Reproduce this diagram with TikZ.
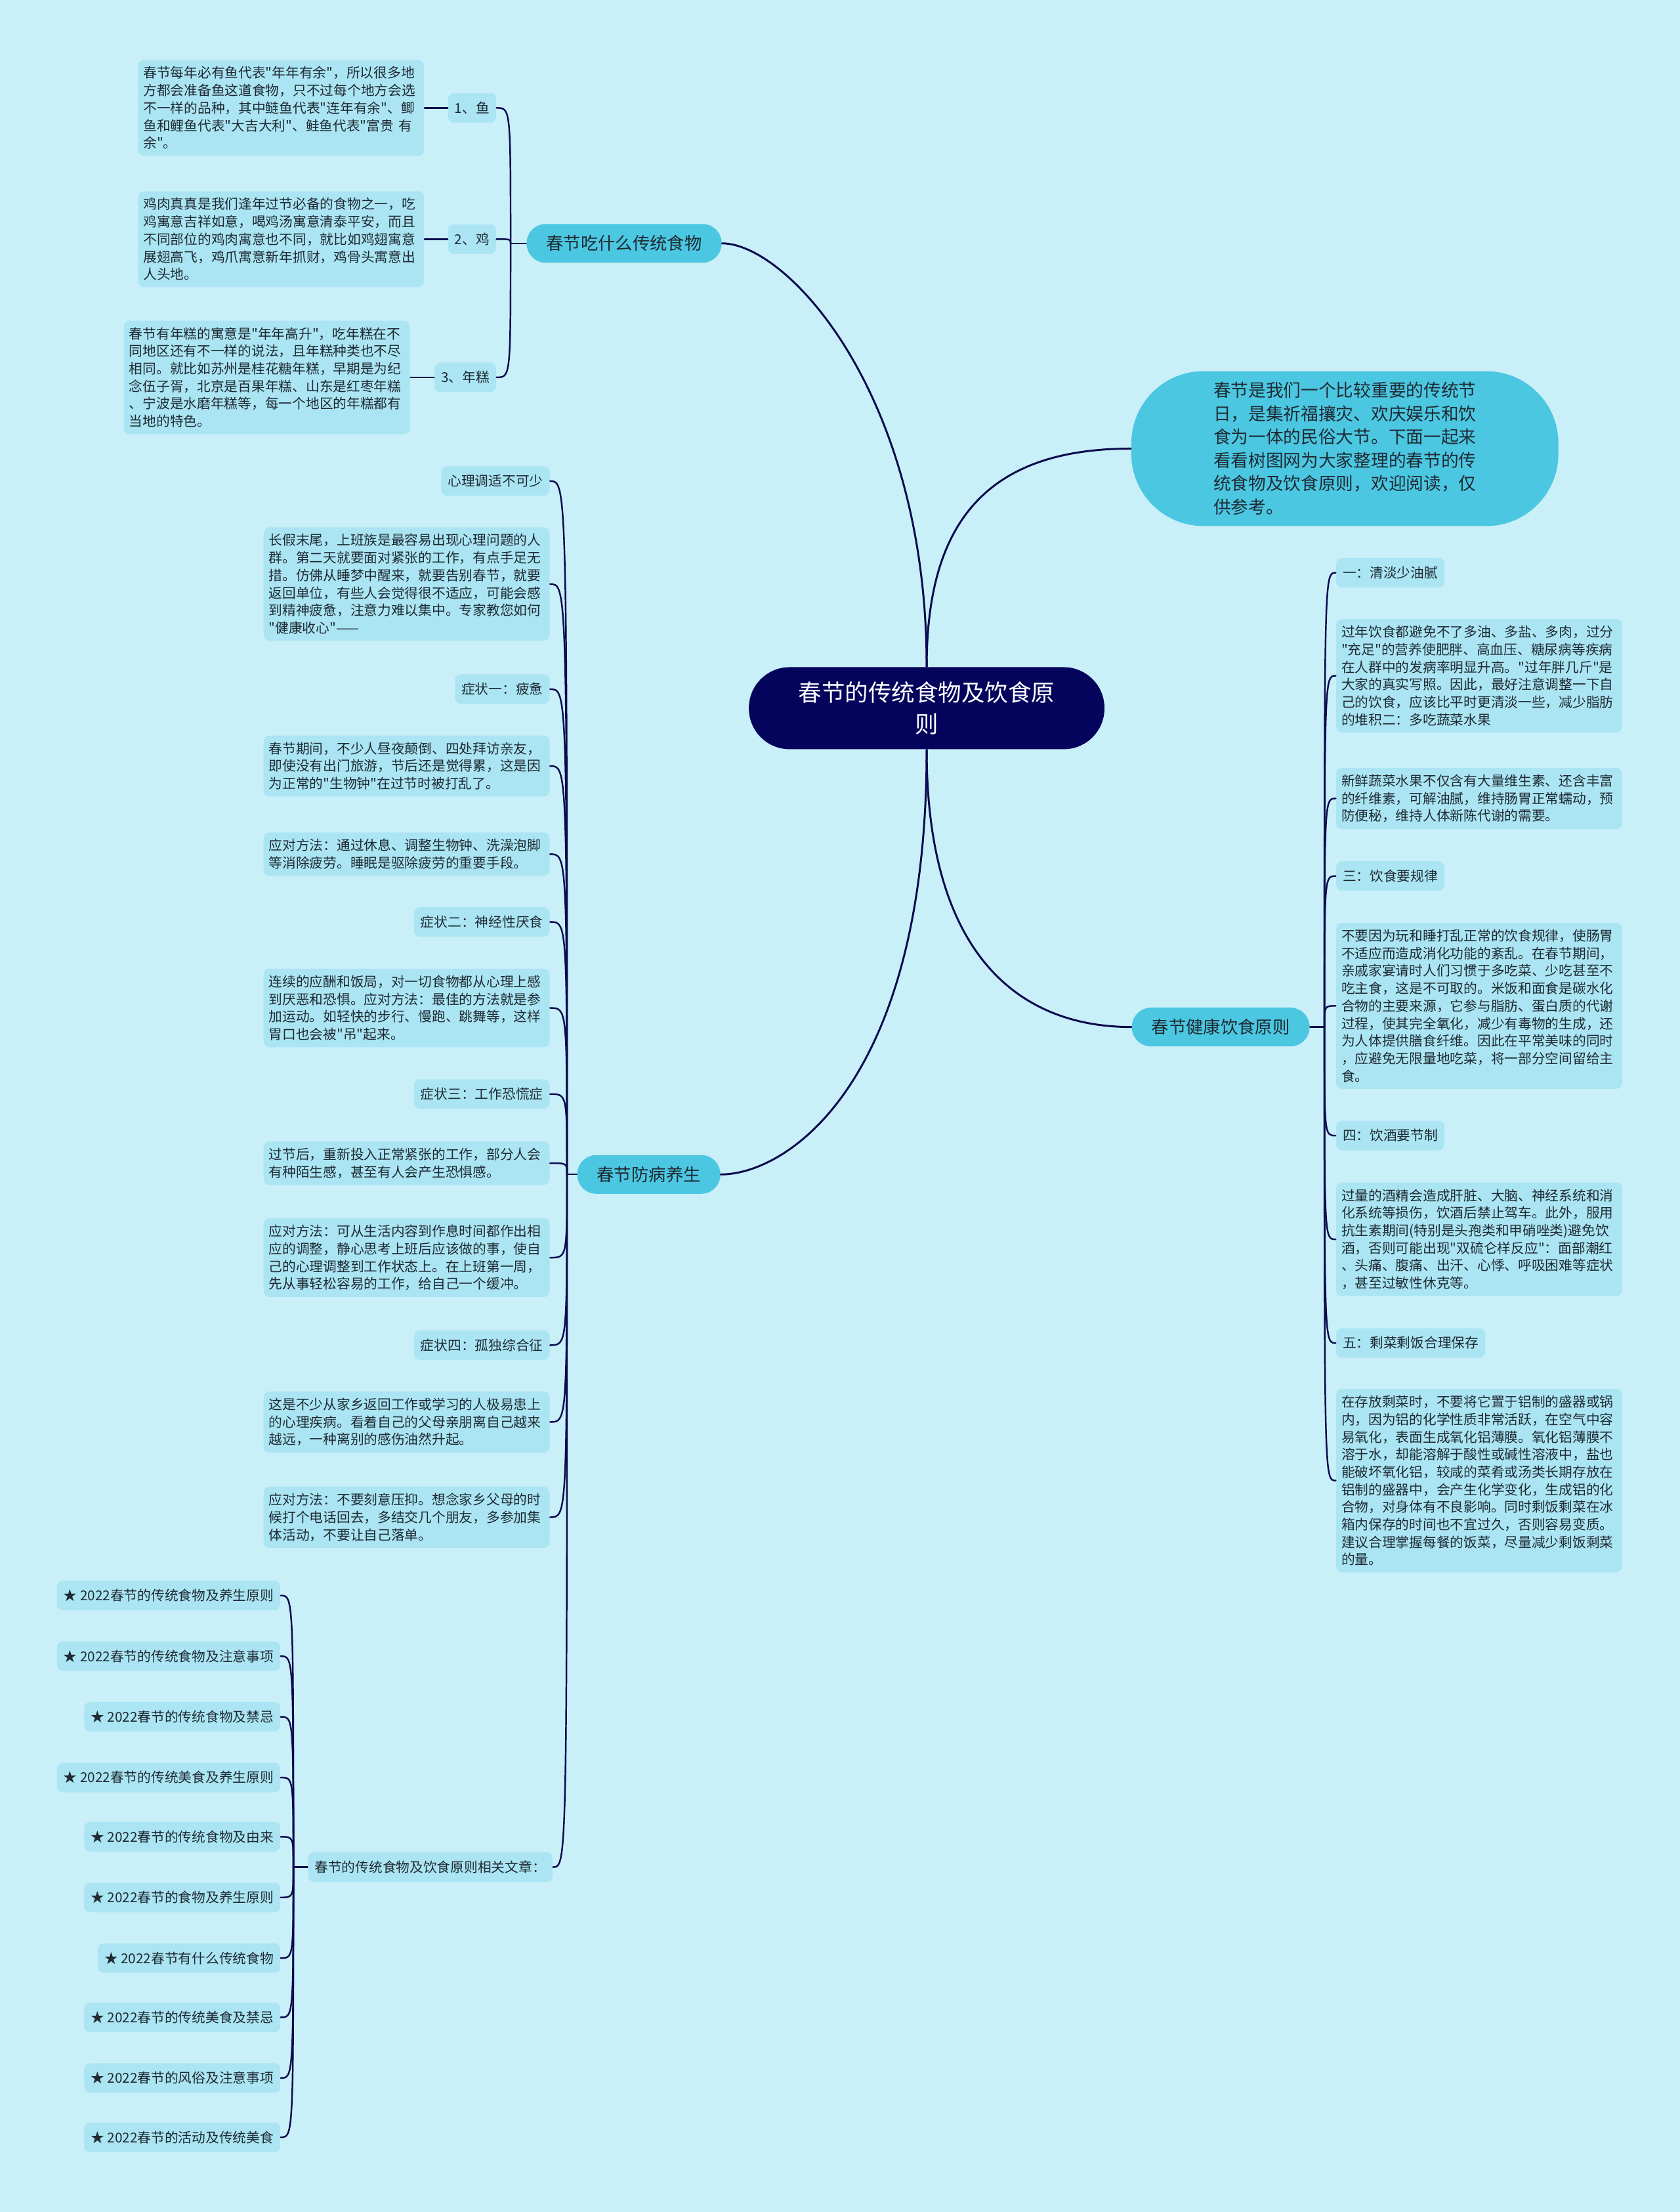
\documentclass[tikz,border=0pt]{standalone}
\usepackage{fontspec}
\newfontfamily\cjkfont{Noto Sans CJK SC}
\definecolor{cFondo}{HTML}{C9EFF8}
\definecolor{cHoja}{HTML}{ABE5F3}
\definecolor{cRama}{HTML}{4BC7E1}
\definecolor{cRaiz}{HTML}{04045C}
\definecolor{cLinea}{HTML}{0B0B4E}
\definecolor{cTexto}{HTML}{1F2A33}

\begin{document}
\begin{tikzpicture}[x=0.021494cm, y=-0.021494cm, line cap=round,
  every node/.style={text=cTexto},
  raiz/.style={fill=cRaiz, text=white, rounded corners=0.62cm, minimum width=5.42cm,
    minimum height=1.25cm, align=center, font=\cjkfont\fontsize{10.1}{13.4}\selectfont},
  burbuja/.style={fill=cRama, rounded corners=1.1cm, minimum width=6.51cm,
    minimum height=2.36cm, inner sep=0pt, align=left, font=\cjkfont\fontsize{7.6}{10.1}\selectfont},
  rama/.style={fill=cRama, rounded corners=0.29cm, minimum height=0.59cm,
    inner xsep=0.3cm, inner ysep=0pt, font=\cjkfont\fontsize{7.5}{9}\selectfont},
  hoja/.style={fill=cHoja, rounded corners=0.09cm, minimum height=0.45cm,
    inner xsep=0.1cm, inner ysep=0pt, font=\cjkfont\fontsize{5.9}{7.6}\selectfont},
  parrafo/.style={hoja, text width=4.2cm, align=left, inner xsep=0.08cm, inner ysep=0.1cm},
  enlace/.style={draw=cLinea, line width=0.85pt},
  brazo/.style={draw=cLinea, line width=0.7pt}]

% --- fondo ---
\useasboundingbox (0,0) rectangle (1191,1568);
\fill[cFondo] (0,0) rectangle (1191,1568);

% --- centro y ramas ---
\node[raiz] (centro) at (657,502) {春节的传统食物及饮食原\\则};
\node[burbuja] (intro) at (953.5,318) {春节是我们一个比较重要的传统节\\日，是集祈福攘灾、欢庆娱乐和饮\\食为一体的民俗大节。下面一起来\\看看树图网为大家整理的春节的传\\统食物及饮食原则，欢迎阅读，仅\\供参考。};
\node[rama] (ramaA) at (442.5,172.5) {春节吃什么传统食物};
\node[rama] (ramaB) at (865.5,728) {春节健康饮食原则};
\node[rama] (ramaC) at (460,832.5) {春节防病养生};

\draw[enlace] (centro.north) .. controls (657,279) and (558,172.5) .. (ramaA.east);
\draw[enlace] (centro.north) .. controls (657,372) and (698,318) .. (intro.west);
\draw[enlace] (centro.south) .. controls (657,675) and (721,728) .. (ramaB.west);
\draw[enlace] (centro.south) .. controls (657,768) and (558,832.5) .. (ramaC.east);

% --- rama A: comidas ---
\node[hoja, anchor=east] (a1) at (352,76.5) {1、鱼};
\node[hoja, anchor=east] (a2) at (352,169.5) {2、鸡};
\node[hoja, anchor=east] (a3) at (352,267.5) {3、年糕};
\node[parrafo, anchor=east] (a1t) at (301,76.5) {春节每年必有鱼代表"年年有余"，所以很多地\\方都会准备鱼这道食物，只不过每个地方会选\\不一样的品种，其中鲢鱼代表"连年有余"、鲫\\鱼和鲤鱼代表"大吉大利"、鲑鱼代表"富贵 有\\余"。};
\node[parrafo, anchor=east] (a2t) at (301,169.5) {鸡肉真真是我们逢年过节必备的食物之一，吃\\鸡寓意吉祥如意，喝鸡汤寓意清泰平安，而且\\不同部位的鸡肉寓意也不同，就比如鸡翅寓意\\展翅高飞，鸡爪寓意新年抓财，鸡骨头寓意出\\人头地。};
\node[parrafo, anchor=east] (a3t) at (291,267.5) {春节有年糕的寓意是"年年高升"，吃年糕在不\\同地区还有不一样的说法，且年糕种类也不尽\\相同。就比如苏州是桂花糖年糕，早期是为纪\\念伍子胥，北京是百果年糕、山东是红枣年糕\\、宁波是水磨年糕等，每一个地区的年糕都有\\当地的特色。};

\coordinate (tA) at (362,172.5);
\draw[brazo] (ramaA.west) -- (tA);
\draw[brazo] (tA) .. controls (tA |- a1.east) .. (a1.east);
\draw[brazo] (tA) .. controls (tA |- a2.east) .. (a2.east);
\draw[brazo] (tA) .. controls (tA |- a3.east) .. (a3.east);
\draw[brazo] (a1t.east) -- (a1.west);
\draw[brazo] (a2t.east) -- (a2.west);
\draw[brazo] (a3t.east) -- (a3.west);

% --- rama B: principios ---
\node[hoja, anchor=west] (b1) at (947,406) {一：清淡少油腻};
\node[parrafo, anchor=west] (b2) at (947,479) {过年饮食都避免不了多油、多盐、多肉，过分\\"充足"的营养使肥胖、高血压、糖尿病等疾病\\在人群中的发病率明显升高。"过年胖几斤"是\\大家的真实写照。因此，最好注意调整一下自\\己的饮食，应该比平时更清淡一些，减少脂肪\\的堆积二：多吃蔬菜水果};
\node[parrafo, anchor=west] (b3) at (947,566) {新鲜蔬菜水果不仅含有大量维生素、还含丰富\\的纤维素，可解油腻，维持肠胃正常蠕动，预\\防便秘，维持人体新陈代谢的需要。};
\node[hoja, anchor=west] (b4) at (947,621) {三：饮食要规律};
\node[parrafo, anchor=west] (b5) at (947,713) {不要因为玩和睡打乱正常的饮食规律，使肠胃\\不适应而造成消化功能的紊乱。在春节期间，\\亲戚家宴请时人们习惯于多吃菜、少吃甚至不\\吃主食，这是不可取的。米饭和面食是碳水化\\合物的主要来源，它参与脂肪、蛋白质的代谢\\过程，使其完全氧化，减少有毒物的生成，还\\为人体提供膳食纤维。因此在平常美味的同时\\，应避免无限量地吃菜，将一部分空间留给主\\食。};
\node[hoja, anchor=west] (b6) at (947,805) {四：饮酒要节制};
\node[parrafo, anchor=west] (b7) at (947,878.5) {过量的酒精会造成肝脏、大脑、神经系统和消\\化系统等损伤，饮酒后禁止驾车。此外，服用\\抗生素期间(特别是头孢类和甲硝唑类)避免饮\\酒，否则可能出现"双硫仑样反应"：面部潮红\\、头痛、腹痛、出汗、心悸、呼吸困难等症状\\，甚至过敏性休克等。};
\node[hoja, anchor=west] (b8) at (947,952) {五：剩菜剩饭合理保存};
\node[parrafo, anchor=west] (b9) at (947,1049.5) {在存放剩菜时，不要将它置于铝制的盛器或锅\\内，因为铝的化学性质非常活跃，在空气中容\\易氧化，表面生成氧化铝薄膜。氧化铝薄膜不\\溶于水，却能溶解于酸性或碱性溶液中，盐也\\能破坏氧化铝，较咸的菜肴或汤类长期存放在\\铝制的盛器中，会产生化学变化，生成铝的化\\合物，对身体有不良影响。同时剩饭剩菜在冰\\箱内保存的时间也不宜过久，否则容易变质。\\建议合理掌握每餐的饭菜，尽量减少剩饭剩菜\\的量。};

\coordinate (tB) at (939,728);
\draw[brazo] (ramaB.east) -- (tB);
\draw[brazo] (tB) .. controls (tB |- b1.west) .. (b1.west);
\draw[brazo] (tB) .. controls (tB |- b2.west) .. (b2.west);
\draw[brazo] (tB) .. controls (tB |- b3.west) .. (b3.west);
\draw[brazo] (tB) .. controls (tB |- b4.west) .. (b4.west);
\draw[brazo] (tB) .. controls (tB |- b5.west) .. (b5.west);
\draw[brazo] (tB) .. controls (tB |- b6.west) .. (b6.west);
\draw[brazo] (tB) .. controls (tB |- b7.west) .. (b7.west);
\draw[brazo] (tB) .. controls (tB |- b8.west) .. (b8.west);
\draw[brazo] (tB) .. controls (tB |- b9.west) .. (b9.west);

% --- rama C: salud ---
\node[hoja, anchor=east] (c1) at (390,341) {心理调适不可少};
\node[parrafo, anchor=east] (c2) at (390,414) {长假末尾，上班族是最容易出现心理问题的人\\群。第二天就要面对紧张的工作，有点手足无\\措。仿佛从睡梦中醒来，就要告别春节，就要\\返回单位，有些人会觉得很不适应，可能会感\\到精神疲惫，注意力难以集中。专家教您如何\\"健康收心"——};
\node[hoja, anchor=east] (c3) at (390,488.5) {症状一：疲惫};
\node[parrafo, anchor=east] (c4) at (390,543) {春节期间，不少人昼夜颠倒、四处拜访亲友，\\即使没有出门旅游，节后还是觉得累，这是因\\为正常的"生物钟"在过节时被打乱了。};
\node[parrafo, anchor=east] (c5) at (390,605.5) {应对方法：通过休息、调整生物钟、洗澡泡脚\\等消除疲劳。睡眠是驱除疲劳的重要手段。};
\node[hoja, anchor=east] (c6) at (390,653.5) {症状二：神经性厌食};
\node[parrafo, anchor=east] (c7) at (390,714.5) {连续的应酬和饭局，对一切食物都从心理上感\\到厌恶和恐惧。应对方法：最佳的方法就是参\\加运动。如轻快的步行、慢跑、跳舞等，这样\\胃口也会被"吊"起来。};
\node[hoja, anchor=east] (c8) at (390,775.5) {症状三：工作恐慌症};
\node[parrafo, anchor=east] (c9) at (390,824.5) {过节后，重新投入正常紧张的工作，部分人会\\有种陌生感，甚至有人会产生恐惧感。};
\node[parrafo, anchor=east] (c10) at (390,891.5) {应对方法：可从生活内容到作息时间都作出相\\应的调整，静心思考上班后应该做的事，使自\\己的心理调整到工作状态上。在上班第一周，\\先从事轻松容易的工作，给自己一个缓冲。};
\node[hoja, anchor=east] (c11) at (390,953.5) {症状四：孤独综合征};
\node[parrafo, anchor=east] (c12) at (390,1008) {这是不少从家乡返回工作或学习的人极易患上\\的心理疾病。看着自己的父母亲朋离自己越来\\越远，一种离别的感伤油然升起。};
\node[parrafo, anchor=east] (c13) at (390,1075.5) {应对方法：不要刻意压抑。想念家乡父母的时\\候打个电话回去，多结交几个朋友，多参加集\\体活动，不要让自己落单。};
\node[hoja, anchor=east] (c14) at (392,1323.5) {春节的传统食物及饮食原则相关文章：};

\coordinate (tC) at (402,832.5);
\draw[brazo] (ramaC.west) -- (tC);
\draw[brazo] (tC) .. controls (tC |- c1.east) .. (c1.east);
\draw[brazo] (tC) .. controls (tC |- c2.east) .. (c2.east);
\draw[brazo] (tC) .. controls (tC |- c3.east) .. (c3.east);
\draw[brazo] (tC) .. controls (tC |- c4.east) .. (c4.east);
\draw[brazo] (tC) .. controls (tC |- c5.east) .. (c5.east);
\draw[brazo] (tC) .. controls (tC |- c6.east) .. (c6.east);
\draw[brazo] (tC) .. controls (tC |- c7.east) .. (c7.east);
\draw[brazo] (tC) .. controls (tC |- c8.east) .. (c8.east);
\draw[brazo] (tC) .. controls (tC |- c9.east) .. (c9.east);
\draw[brazo] (tC) .. controls (tC |- c10.east) .. (c10.east);
\draw[brazo] (tC) .. controls (tC |- c11.east) .. (c11.east);
\draw[brazo] (tC) .. controls (tC |- c12.east) .. (c12.east);
\draw[brazo] (tC) .. controls (tC |- c13.east) .. (c13.east);
\draw[brazo] (tC) .. controls (tC |- c14.east) .. (c14.east);

% --- articulos relacionados ---
\node[hoja, anchor=east] (r1) at (199,1131) {★ 2022春节的传统食物及养生原则};
\node[hoja, anchor=east] (r2) at (199,1174) {★ 2022春节的传统食物及注意事项};
\node[hoja, anchor=east] (r3) at (199,1217) {★ 2022春节的传统食物及禁忌};
\node[hoja, anchor=east] (r4) at (199,1260) {★ 2022春节的传统美食及养生原则};
\node[hoja, anchor=east] (r5) at (199,1302) {★ 2022春节的传统食物及由来};
\node[hoja, anchor=east] (r6) at (199,1345) {★ 2022春节的食物及养生原则};
\node[hoja, anchor=east] (r7) at (199,1388) {★ 2022春节有什么传统食物};
\node[hoja, anchor=east] (r8) at (199,1430) {★ 2022春节的传统美食及禁忌};
\node[hoja, anchor=east] (r9) at (199,1473) {★ 2022春节的风俗及注意事项};
\node[hoja, anchor=east] (r10) at (199,1515) {★ 2022春节的活动及传统美食};

\coordinate (tR) at (208,1323.5);
\draw[brazo] (c14.west) -- (tR);
\draw[brazo] (tR) .. controls (tR |- r1.east) .. (r1.east);
\draw[brazo] (tR) .. controls (tR |- r2.east) .. (r2.east);
\draw[brazo] (tR) .. controls (tR |- r3.east) .. (r3.east);
\draw[brazo] (tR) .. controls (tR |- r4.east) .. (r4.east);
\draw[brazo] (tR) .. controls (tR |- r5.east) .. (r5.east);
\draw[brazo] (tR) .. controls (tR |- r6.east) .. (r6.east);
\draw[brazo] (tR) .. controls (tR |- r7.east) .. (r7.east);
\draw[brazo] (tR) .. controls (tR |- r8.east) .. (r8.east);
\draw[brazo] (tR) .. controls (tR |- r9.east) .. (r9.east);
\draw[brazo] (tR) .. controls (tR |- r10.east) .. (r10.east);

\end{tikzpicture}
\end{document}
